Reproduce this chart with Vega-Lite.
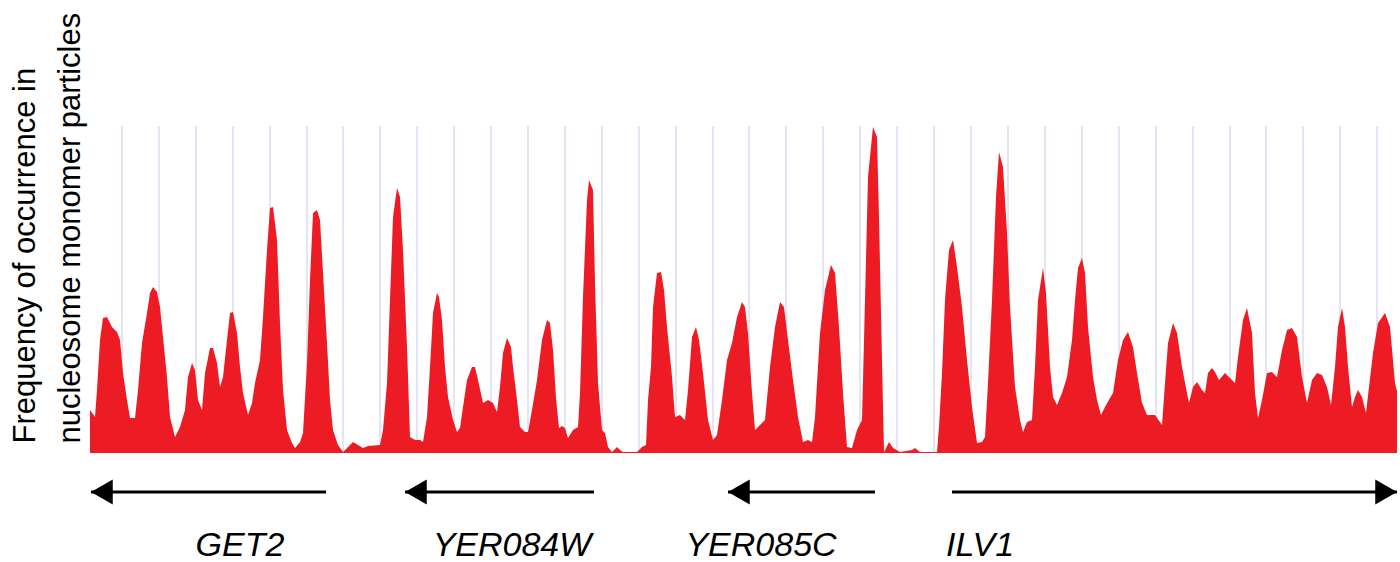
{
  "$schema": "https://vega.github.io/schema/vega-lite/v6.json",
  "width": 1307,
  "height": 562,
  "autosize": {"type": "none"},
  "padding": {"left": 90, "right": 3, "top": 0, "bottom": 0},
  "background": "white",
  "config": {
    "view": {"stroke": null},
    "axisY": {
      "domain": false, "ticks": false, "labels": false, "grid": false,
      "titleAngle": 270, "titleAlign": "left", "titleBaseline": "alphabetic",
      "titleX": -56, "titleY": 443,
      "titleFont": "Liberation Sans", "titleFontSize": 31, "titleFontWeight": "normal",
      "titleColor": "black", "titleLineHeight": 45
    }
  },
  "datasets": {
    "profile": [
      {"pos":0,"freq":43},{"pos":5,"freq":36},{"pos":7,"freq":63},{"pos":10,"freq":113},{"pos":13,"freq":135},{"pos":17,"freq":136},{"pos":22,"freq":126},{"pos":27,"freq":121},{"pos":30,"freq":113},{"pos":33,"freq":80},{"pos":37,"freq":53},{"pos":40,"freq":35},{"pos":45,"freq":35},{"pos":48,"freq":63},{"pos":52,"freq":110},{"pos":57,"freq":140},{"pos":60,"freq":160},{"pos":63,"freq":166},{"pos":67,"freq":161},{"pos":70,"freq":146},{"pos":73,"freq":116},{"pos":77,"freq":76},{"pos":80,"freq":36},{"pos":85,"freq":16},{"pos":90,"freq":26},{"pos":95,"freq":43},{"pos":98,"freq":76},{"pos":102,"freq":90},{"pos":105,"freq":83},{"pos":108,"freq":53},{"pos":112,"freq":43},{"pos":115,"freq":80},{"pos":120,"freq":105},{"pos":123,"freq":105},{"pos":127,"freq":90},{"pos":130,"freq":66},{"pos":133,"freq":76},{"pos":137,"freq":113},{"pos":140,"freq":140},{"pos":143,"freq":141},{"pos":147,"freq":120},{"pos":150,"freq":86},{"pos":153,"freq":60},{"pos":158,"freq":38},{"pos":162,"freq":50},{"pos":165,"freq":70},{"pos":170,"freq":93},{"pos":173,"freq":136},{"pos":177,"freq":203},{"pos":180,"freq":245},{"pos":183,"freq":246},{"pos":187,"freq":213},{"pos":190,"freq":130},{"pos":193,"freq":63},{"pos":197,"freq":23},{"pos":202,"freq":10},{"pos":205,"freq":5},{"pos":210,"freq":11},{"pos":213,"freq":20},{"pos":217,"freq":90},{"pos":220,"freq":173},{"pos":223,"freq":240},{"pos":227,"freq":243},{"pos":230,"freq":233},{"pos":233,"freq":180},{"pos":237,"freq":110},{"pos":240,"freq":53},{"pos":243,"freq":23},{"pos":248,"freq":8},{"pos":253,"freq":1},{"pos":258,"freq":6},{"pos":263,"freq":11},{"pos":268,"freq":8},{"pos":273,"freq":5},{"pos":278,"freq":7},{"pos":290,"freq":8},{"pos":293,"freq":23},{"pos":297,"freq":70},{"pos":300,"freq":153},{"pos":303,"freq":236},{"pos":307,"freq":265},{"pos":310,"freq":256},{"pos":313,"freq":203},{"pos":317,"freq":106},{"pos":320,"freq":16},{"pos":325,"freq":13},{"pos":330,"freq":13},{"pos":333,"freq":11},
      {"pos":337,"freq":36},{"pos":340,"freq":86},{"pos":343,"freq":140},{"pos":347,"freq":160},{"pos":349,"freq":156},{"pos":352,"freq":133},{"pos":355,"freq":86},{"pos":358,"freq":56},{"pos":363,"freq":33},{"pos":367,"freq":21},{"pos":370,"freq":25},{"pos":373,"freq":46},{"pos":377,"freq":73},{"pos":382,"freq":86},{"pos":385,"freq":86},{"pos":388,"freq":73},{"pos":393,"freq":50},{"pos":398,"freq":53},{"pos":403,"freq":50},{"pos":407,"freq":41},{"pos":410,"freq":66},{"pos":413,"freq":100},{"pos":417,"freq":115},{"pos":421,"freq":106},{"pos":423,"freq":86},{"pos":427,"freq":53},{"pos":430,"freq":26},{"pos":435,"freq":21},{"pos":438,"freq":21},{"pos":442,"freq":43},{"pos":447,"freq":73},{"pos":452,"freq":113},{"pos":457,"freq":133},{"pos":460,"freq":130},{"pos":463,"freq":103},{"pos":466,"freq":55},{"pos":469,"freq":25},{"pos":472,"freq":27},{"pos":475,"freq":25},{"pos":478,"freq":15},{"pos":483,"freq":23},{"pos":488,"freq":26},{"pos":490,"freq":60},{"pos":493,"freq":156},{"pos":497,"freq":253},{"pos":499,"freq":273},{"pos":503,"freq":263},{"pos":505,"freq":170},{"pos":508,"freq":70},{"pos":512,"freq":23},{"pos":515,"freq":20},{"pos":518,"freq":6},{"pos":522,"freq":1},{"pos":527,"freq":6},{"pos":530,"freq":3},{"pos":533,"freq":1},{"pos":547,"freq":1},{"pos":552,"freq":6},{"pos":556,"freq":8},{"pos":558,"freq":53},{"pos":561,"freq":86},{"pos":563,"freq":146},{"pos":567,"freq":180},{"pos":571,"freq":181},{"pos":574,"freq":163},{"pos":577,"freq":126},{"pos":582,"freq":76},{"pos":585,"freq":36},{"pos":590,"freq":38},{"pos":595,"freq":33},{"pos":598,"freq":63},{"pos":602,"freq":116},{"pos":606,"freq":126},{"pos":609,"freq":113},{"pos":613,"freq":80},{"pos":618,"freq":33},{"pos":623,"freq":13},{"pos":627,"freq":18},{"pos":632,"freq":53},{"pos":637,"freq":93},{"pos":642,"freq":110},{"pos":647,"freq":136},{"pos":652,"freq":151},{"pos":655,"freq":146},{"pos":658,"freq":120},{"pos":662,"freq":60},{"pos":665,"freq":23},{"pos":670,"freq":28},
      {"pos":675,"freq":33},{"pos":680,"freq":86},{"pos":685,"freq":126},{"pos":690,"freq":151},{"pos":694,"freq":146},{"pos":698,"freq":113},{"pos":703,"freq":73},{"pos":708,"freq":36},{"pos":713,"freq":11},{"pos":718,"freq":13},{"pos":722,"freq":11},{"pos":725,"freq":36},{"pos":730,"freq":120},{"pos":735,"freq":163},{"pos":741,"freq":188},{"pos":745,"freq":180},{"pos":749,"freq":126},{"pos":753,"freq":60},{"pos":757,"freq":6},{"pos":762,"freq":5},{"pos":767,"freq":23},{"pos":772,"freq":33},{"pos":775,"freq":153},{"pos":778,"freq":276},{"pos":783,"freq":326},{"pos":787,"freq":316},{"pos":789,"freq":236},{"pos":792,"freq":93},{"pos":794,"freq":1},{"pos":799,"freq":11},{"pos":803,"freq":5},{"pos":810,"freq":1},{"pos":822,"freq":3},{"pos":825,"freq":5},{"pos":830,"freq":1},{"pos":847,"freq":1},{"pos":849,"freq":26},{"pos":852,"freq":80},{"pos":855,"freq":153},{"pos":859,"freq":203},{"pos":863,"freq":213},{"pos":867,"freq":186},{"pos":872,"freq":146},{"pos":877,"freq":93},{"pos":882,"freq":46},{"pos":887,"freq":10},{"pos":892,"freq":11},{"pos":895,"freq":16},{"pos":898,"freq":70},{"pos":902,"freq":153},{"pos":906,"freq":256},{"pos":909,"freq":301},{"pos":913,"freq":286},{"pos":917,"freq":220},{"pos":920,"freq":146},{"pos":925,"freq":66},{"pos":930,"freq":33},{"pos":933,"freq":21},{"pos":937,"freq":31},{"pos":942,"freq":33},{"pos":945,"freq":86},{"pos":948,"freq":153},{"pos":953,"freq":185},{"pos":956,"freq":160},{"pos":960,"freq":86},{"pos":963,"freq":56},{"pos":967,"freq":48},{"pos":972,"freq":60},{"pos":977,"freq":76},{"pos":982,"freq":113},{"pos":985,"freq":153},{"pos":988,"freq":185},
      {"pos":992,"freq":195},{"pos":995,"freq":180},{"pos":998,"freq":126},{"pos":1003,"freq":76},{"pos":1007,"freq":53},{"pos":1011,"freq":38},{"pos":1015,"freq":46},{"pos":1020,"freq":55},{"pos":1023,"freq":60},{"pos":1028,"freq":93},{"pos":1033,"freq":113},{"pos":1038,"freq":121},{"pos":1043,"freq":106},{"pos":1047,"freq":80},{"pos":1052,"freq":50},{"pos":1057,"freq":38},{"pos":1065,"freq":38},{"pos":1072,"freq":28},{"pos":1075,"freq":70},{"pos":1078,"freq":110},{"pos":1083,"freq":130},{"pos":1087,"freq":120},{"pos":1092,"freq":86},{"pos":1097,"freq":60},{"pos":1099,"freq":50},{"pos":1103,"freq":66},{"pos":1107,"freq":71},{"pos":1112,"freq":63},{"pos":1115,"freq":60},{"pos":1118,"freq":80},{"pos":1122,"freq":85},{"pos":1125,"freq":81},{"pos":1129,"freq":73},{"pos":1135,"freq":80},{"pos":1140,"freq":75},{"pos":1145,"freq":70},{"pos":1148,"freq":96},{"pos":1153,"freq":133},{"pos":1157,"freq":145},{"pos":1162,"freq":120},{"pos":1165,"freq":60},{"pos":1168,"freq":35},{"pos":1172,"freq":53},{"pos":1177,"freq":80},{"pos":1182,"freq":81},{"pos":1187,"freq":76},{"pos":1192,"freq":103},{"pos":1197,"freq":123},{"pos":1202,"freq":125},{"pos":1207,"freq":116},{"pos":1212,"freq":76},{"pos":1217,"freq":50},{"pos":1222,"freq":73},{"pos":1227,"freq":80},{"pos":1232,"freq":78},{"pos":1237,"freq":66},{"pos":1241,"freq":48},{"pos":1245,"freq":86},{"pos":1248,"freq":126},{"pos":1252,"freq":145},{"pos":1255,"freq":126},{"pos":1258,"freq":86},{"pos":1262,"freq":46},{"pos":1265,"freq":56},{"pos":1268,"freq":63},{"pos":1272,"freq":56},{"pos":1276,"freq":40},{"pos":1279,"freq":66},{"pos":1283,"freq":100},{"pos":1288,"freq":130},{"pos":1295,"freq":140},{"pos":1300,"freq":126},{"pos":1305,"freq":70},{"pos":1307,"freq":62}
    ],
    "grid": [
      {"pos":32},{"pos":69},{"pos":106},{"pos":143},{"pos":180},{"pos":217},{"pos":253},{"pos":290},{"pos":327},{"pos":364},{"pos":401},{"pos":438},{"pos":475},{"pos":512},{"pos":549},{"pos":586},{"pos":623},{"pos":659},{"pos":696},{"pos":733},{"pos":770},{"pos":807},{"pos":844},{"pos":881},{"pos":918},{"pos":955},{"pos":992},{"pos":1029},{"pos":1066},{"pos":1103},{"pos":1140},{"pos":1176},{"pos":1213},{"pos":1250},{"pos":1287}
    ],
    "genes": [
      {"gene":"GET2","start":1,"end":236,"direction":"left","labelPos":150},
      {"gene":"YER084W","start":315,"end":504,"direction":"left","labelPos":422},
      {"gene":"YER085C","start":638,"end":785,"direction":"left","labelPos":671},
      {"gene":"ILV1","start":862,"end":1307,"direction":"right","labelPos":890}
    ]
  },
  "layer": [
    {
      "data": {"name": "grid"},
      "mark": {"type": "rule", "color": "#e4e4f4", "strokeWidth": 2},
      "encoding": {
        "x": {"field": "pos", "type": "quantitative", "scale": {"domain": [0, 1307], "nice": false, "zero": false}, "axis": null},
        "y": {"datum": 0, "type": "quantitative", "scale": {"domain": [-109, 453], "nice": false, "zero": false},
          "title": ["Frequency of occurrence in", "nucleosome monomer particles"]},
        "y2": {"datum": 327}
      }
    },
    {
      "data": {"name": "profile"},
      "mark": {"type": "area", "color": "#ed1c24", "interpolate": "linear"},
      "encoding": {
        "x": {"field": "pos", "type": "quantitative", "scale": {"domain": [0, 1307], "nice": false, "zero": false}, "axis": null},
        "y": {"field": "freq", "type": "quantitative", "scale": {"domain": [-109, 453], "nice": false, "zero": false},
          "title": ["Frequency of occurrence in", "nucleosome monomer particles"]},
        "y2": {"datum": 0}
      }
    },
    {
      "data": {"name": "genes"},
      "mark": {"type": "rule", "color": "black", "strokeWidth": 3},
      "encoding": {
        "x": {"field": "start", "type": "quantitative", "scale": {"domain": [0, 1307], "nice": false, "zero": false}, "axis": null},
        "x2": {"field": "end"},
        "y": {"datum": -39, "type": "quantitative", "scale": {"domain": [-109, 453], "nice": false, "zero": false},
          "title": ["Frequency of occurrence in", "nucleosome monomer particles"]}
      }
    },
    {
      "data": {"name": "genes"},
      "transform": [{"filter": "datum.direction === 'left'"}],
      "mark": {"type": "point", "filled": true, "color": "black", "opacity": 1, "strokeWidth": 0, "size": 625},
      "encoding": {
        "x": {"field": "start", "type": "quantitative", "scale": {"domain": [0, 1307], "nice": false, "zero": false}, "axis": null},
        "y": {"datum": -39, "type": "quantitative", "scale": {"domain": [-109, 453], "nice": false, "zero": false},
          "title": ["Frequency of occurrence in", "nucleosome monomer particles"]},
        "shape": {"field": "direction", "type": "nominal", "scale": {"domain": ["left", "right"], "range": ["M0,0L1.74,-1L1.74,1Z", "M0,0L-1.74,-1L-1.74,1Z"]}, "legend": null}
      }
    },
    {
      "data": {"name": "genes"},
      "transform": [{"filter": "datum.direction === 'right'"}],
      "mark": {"type": "point", "filled": true, "color": "black", "opacity": 1, "strokeWidth": 0, "size": 625},
      "encoding": {
        "x": {"field": "end", "type": "quantitative", "scale": {"domain": [0, 1307], "nice": false, "zero": false}, "axis": null},
        "y": {"datum": -39, "type": "quantitative", "scale": {"domain": [-109, 453], "nice": false, "zero": false},
          "title": ["Frequency of occurrence in", "nucleosome monomer particles"]},
        "shape": {"field": "direction", "type": "nominal", "scale": {"domain": ["left", "right"], "range": ["M0,0L1.74,-1L1.74,1Z", "M0,0L-1.74,-1L-1.74,1Z"]}, "legend": null}
      }
    },
    {
      "data": {"name": "genes"},
      "mark": {"type": "text", "font": "Liberation Sans", "fontStyle": "italic", "fontSize": 34, "color": "black", "align": "center", "baseline": "alphabetic"},
      "encoding": {
        "x": {"field": "labelPos", "type": "quantitative", "scale": {"domain": [0, 1307], "nice": false, "zero": false}, "axis": null},
        "y": {"datum": -103, "type": "quantitative", "scale": {"domain": [-109, 453], "nice": false, "zero": false},
          "title": ["Frequency of occurrence in", "nucleosome monomer particles"]},
        "text": {"field": "gene"}
      }
    }
  ]
}
